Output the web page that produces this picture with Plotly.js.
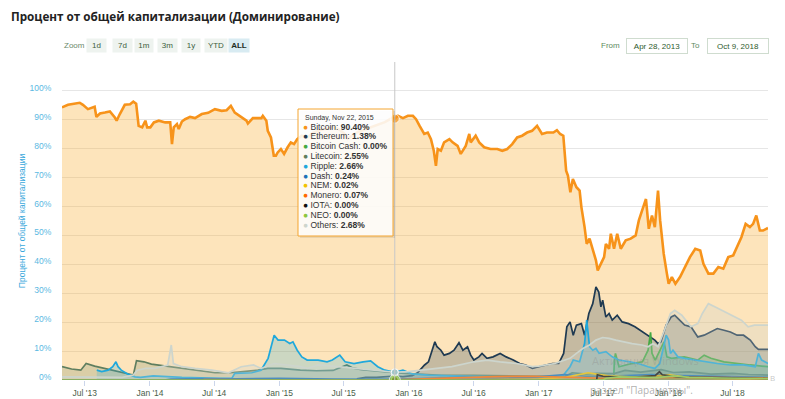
<!DOCTYPE html>
<html><head><meta charset="utf-8">
<script src="https://cdn.plot.ly/plotly-3.0.1.min.js"></script>
<style>html,body{margin:0;padding:0;background:#fff}#chart{width:785px;height:399px}</style>
</head><body><div id="chart"></div>
<script>
// ---------- DATA ----------
const seriesNames = ['Bitcoin','Ethereum','Bitcoin Cash','Litecoin','Ripple','Dash','NEM','Monero','IOTA','NEO','Others'];
const seriesColors = ['#f7931a','#1f3a52','#43a843','#5f7e5f','#1fa8dc','#1c72b8','#f2c200','#ff6a00','#111111','#8cc63f','#cdd5cd'];

const btcDates = ['2013-04-28','2013-05-15','2013-06-17','2013-06-26','2013-07-10','2013-07-29','2013-08-03','2013-08-13','2013-08-27','2013-09-10','2013-09-24','2013-09-29','2013-10-08','2013-10-22','2013-11-06','2013-11-15','2013-11-23','2013-11-30','2013-12-10','2013-12-19','2013-12-24','2014-01-02','2014-01-12','2014-01-26','2014-02-13','2014-02-27','2014-03-04','2014-03-09','2014-03-18','2014-03-23','2014-04-01','2014-04-10','2014-04-24','2014-05-08','2014-05-27','2014-06-14','2014-07-03','2014-07-22','2014-08-05','2014-08-17','2014-08-28','2014-09-11','2014-09-30','2014-10-04','2014-10-18','2014-11-11','2014-11-15','2014-11-25','2014-11-29','2014-12-08','2014-12-16','2014-12-22','2014-12-27','2015-01-05','2015-01-14','2015-01-24','2015-02-02','2015-02-11','2015-02-20','2015-03-05','2015-03-20','2015-04-05','2015-04-20','2015-05-05','2015-05-20','2015-06-05','2015-06-20','2015-07-05','2015-07-12','2015-07-25','2015-08-10','2015-08-25','2015-09-10','2015-09-25','2015-10-10','2015-10-25','2015-11-05','2015-11-16','2015-11-22','2015-12-01','2015-12-15','2015-12-29','2016-01-12','2016-01-21','2016-01-31','2016-02-13','2016-02-23','2016-03-03','2016-03-11','2016-03-17','2016-03-22','2016-03-31','2016-04-09','2016-04-24','2016-05-03','2016-05-17','2016-05-26','2016-06-09','2016-06-19','2016-06-23','2016-07-07','2016-07-17','2016-07-31','2016-08-18','2016-09-06','2016-09-20','2016-10-04','2016-10-18','2016-11-01','2016-11-15','2016-11-29','2016-12-13','2016-12-27','2017-01-10','2017-01-24','2017-02-11','2017-02-21','2017-03-02','2017-03-11','2017-03-19','2017-03-24','2017-03-31','2017-04-07','2017-04-17','2017-04-26','2017-05-01','2017-05-10','2017-05-16','2017-05-24','2017-06-02','2017-06-11','2017-06-16','2017-06-25','2017-07-04','2017-07-09','2017-07-18','2017-07-23','2017-08-01','2017-08-10','2017-08-20','2017-09-03','2017-09-17','2017-10-01','2017-10-10','2017-10-19','2017-10-30','2017-11-07','2017-11-16','2017-11-24','2017-12-03','2017-12-09','2017-12-19','2017-12-28','2018-01-02','2018-01-11','2018-01-21','2018-02-03','2018-02-18','2018-03-03','2018-03-18','2018-04-01','2018-04-10','2018-04-24','2018-05-08','2018-05-22','2018-06-05','2018-06-19','2018-07-03','2018-07-17','2018-07-26','2018-08-07','2018-08-19','2018-08-28','2018-09-06','2018-09-16','2018-09-25','2018-10-09'];
const btcValues = [94.3,95.2,95.9,95.2,93.7,94.5,91.0,92.2,92.5,92.9,90.8,89.7,92.0,95.2,95.4,96.3,95.6,87.9,87.4,89.7,87.4,87.4,89.1,89.7,89.1,89.1,81.6,87.4,88.5,86.8,89.4,90.2,91.0,90.6,92.0,92.4,93.7,93.1,93.3,94.8,92.5,91.4,89.7,88.7,90.6,90.6,91.4,89.7,86.2,83.9,77.6,77.6,78.7,79.9,78.2,80.5,82.2,81.6,83.3,84.5,83.8,85.5,86.2,86.8,87.0,87.5,86.5,85.0,83.5,84.5,85.8,86.5,87.2,87.8,88.5,89.2,90.0,90.8,90.4,91.4,90.6,91.4,91.4,90.2,87.9,85.1,85.6,83.3,79.3,74.1,79.9,79.3,82.2,83.3,82.2,81.0,78.2,81.0,85.1,82.2,84.5,82.2,80.5,79.9,79.9,79.3,79.9,81.6,83.9,84.5,85.6,86.2,87.9,85.1,85.6,85.6,86.4,85.1,84.5,72.4,70.7,64.9,69.5,66.7,65.5,59.8,52.9,47.1,48.9,44.8,41.4,37.9,40.2,42.5,47.1,45.4,50.6,45.4,50.6,45.4,48.3,48.9,50.0,55.2,58.6,62.6,52.3,56.9,52.9,65.5,55.2,43.7,36.8,33.3,35.6,33.3,35.6,39.1,42.5,45.4,44.8,40.2,36.8,36.8,39.1,38.5,42.5,43.1,46.6,49.4,54.0,52.9,54.0,56.9,51.7,51.7,52.6];

const ethDates = ['2015-08-07','2015-09-01','2015-10-01','2015-11-01','2015-11-22','2015-12-15','2016-01-10','2016-01-25','2016-02-05','2016-02-14','2016-02-25','2016-03-07','2016-03-14','2016-03-20','2016-03-31','2016-04-09','2016-04-24','2016-05-07','2016-05-21','2016-06-01','2016-06-14','2016-06-23','2016-07-02','2016-07-16','2016-07-25','2016-08-08','2016-08-25','2016-09-14','2016-10-01','2016-10-21','2016-11-08','2016-11-25','2016-12-14','2017-01-01','2017-01-20','2017-02-08','2017-02-26','2017-03-12','2017-03-21','2017-03-30','2017-04-08','2017-04-17','2017-05-01','2017-05-10','2017-05-22','2017-06-02','2017-06-11','2017-06-19','2017-06-25','2017-06-30','2017-07-09','2017-07-18','2017-07-27','2017-08-10','2017-08-24','2017-09-11','2017-09-29','2017-10-13','2017-10-27','2017-11-10','2017-11-24','2017-12-03','2017-12-11','2017-12-17','2017-12-26','2018-01-09','2018-01-19','2018-01-28','2018-02-16','2018-03-06','2018-03-25','2018-04-12','2018-05-01','2018-05-19','2018-06-07','2018-06-25','2018-07-14','2018-08-01','2018-08-20','2018-09-03','2018-09-12','2018-10-09'];
const ethValues = [0.4,0.9,0.9,1.1,1.38,1.2,1.5,2.5,4.0,5.2,6.3,10.3,13.2,11.5,10.3,8.6,9.2,10.3,12.9,10.3,11.5,8.6,6.9,8.0,9.2,7.5,8.0,9.2,8.0,6.9,5.7,5.2,4.0,4.6,5.2,5.7,5.7,9.2,18.4,20.1,15.5,19.0,19.5,15.5,23.0,26.4,32.2,30.4,25.3,27.6,21.8,23.0,20.7,22.4,20.1,19.5,18.4,17.2,16.1,14.9,13.8,12.6,13.2,15.5,19.0,21.8,22.4,21.3,19.0,18.4,14.9,15.5,16.6,17.8,17.2,16.6,15.5,15.5,13.8,11.5,10.6,10.6];

const bchDates = ['2013-04-28','2017-07-31','2017-08-02','2017-08-05','2017-08-15','2017-09-20','2017-10-20','2017-11-05','2017-11-12','2017-11-16','2017-11-25','2017-12-08','2017-12-20','2017-12-28','2018-01-10','2018-02-15','2018-03-25','2018-04-12','2018-05-01','2018-06-07','2018-07-14','2018-08-20','2018-10-09'];
const bchValues = [0,0,6.9,9.2,4.6,5.7,6.3,10.3,16.5,9.2,6.9,10.0,13.2,8.0,7.5,8.0,6.9,8.6,7.5,6.3,5.7,5.2,4.6];

const ltcDates = ['2013-04-28','2013-05-25','2013-06-20','2013-07-05','2013-07-29','2013-09-05','2013-10-10','2013-11-15','2013-11-24','2013-12-15','2014-01-05','2014-02-15','2014-04-01','2014-05-15','2014-07-03','2014-08-15','2014-09-20','2014-11-01','2014-11-29','2015-01-05','2015-03-01','2015-04-15','2015-06-01','2015-07-10','2015-07-25','2015-08-20','2015-09-20','2015-10-20','2015-11-22','2015-12-20','2016-02-01','2016-04-01','2016-07-01','2016-10-01','2017-01-01','2017-03-15','2017-04-05','2017-05-15','2017-06-15','2017-08-01','2017-09-01','2017-10-15','2017-12-12','2018-01-15','2018-03-01','2018-05-01','2018-07-01','2018-08-15','2018-10-09'];
const ltcValues = [4.6,3.8,3.4,5.7,4.8,3.7,2.5,1.7,6.7,6.3,5.5,4.8,4.2,3.4,2.5,2.5,2.9,3.4,4.0,4.0,3.4,3.2,3.3,5.2,4.2,3.6,3.2,2.8,2.55,2.3,2.0,1.6,1.6,1.5,1.3,1.2,2.5,2.0,2.3,2.2,3.3,2.7,3.6,2.6,2.8,2.0,2.3,1.9,1.7];

const xrpDates = ['2013-08-04','2013-08-18','2013-09-05','2013-09-18','2013-09-27','2013-10-03','2013-10-12','2013-10-30','2013-11-20','2013-12-05','2014-01-10','2014-04-01','2014-07-15','2014-08-20','2014-08-28','2014-10-15','2014-11-10','2014-11-30','2014-12-17','2014-12-28','2015-01-15','2015-01-30','2015-02-08','2015-02-20','2015-03-05','2015-03-20','2015-04-20','2015-05-15','2015-05-30','2015-06-20','2015-07-05','2015-07-30','2015-08-25','2015-09-15','2015-10-05','2015-10-25','2015-11-22','2015-12-15','2016-01-10','2016-02-25','2016-05-01','2016-08-08','2016-12-14','2017-02-01','2017-03-10','2017-03-30','2017-04-08','2017-04-26','2017-05-10','2017-05-16','2017-05-24','2017-06-02','2017-06-11','2017-06-20','2017-07-09','2017-07-27','2017-08-15','2017-09-15','2017-10-08','2017-11-05','2017-11-24','2017-12-08','2017-12-17','2017-12-26','2018-01-02','2018-01-07','2018-01-14','2018-01-28','2018-02-16','2018-03-18','2018-04-12','2018-05-19','2018-06-25','2018-08-01','2018-09-03','2018-09-12','2018-09-21','2018-10-09'];
const xrpValues = [3.4,2.9,3.4,4.6,6.3,4.6,3.4,2.1,1.1,0.9,1.4,0.9,0.6,0.6,2.3,2.5,3.4,7.5,15.5,13.8,13.8,12.6,13.2,10.3,8.0,6.9,6.9,6.3,6.9,8.6,6.3,5.7,6.3,6.6,4.6,3.4,2.66,3.4,2.1,1.7,1.4,1.1,0.9,1.0,1.5,4.6,6.9,6.3,12.6,20.7,11.5,10.3,10.9,9.2,9.8,8.0,6.9,6.3,5.7,4.6,4.0,5.7,10.3,15.5,13.8,9.2,10.3,8.0,7.5,6.9,6.3,5.7,5.2,5.2,4.6,9.2,6.9,5.7];

const dashDates = ['2014-02-10','2014-03-01','2014-06-01','2014-09-01','2015-01-01','2015-06-01','2015-11-22','2016-03-01','2016-06-01','2016-09-01','2016-12-01','2017-03-15','2017-05-15','2017-08-15','2017-11-15','2018-01-01','2018-04-01','2018-07-01','2018-10-09'];
const dashValues = [0,0.3,0.5,0.4,0.6,0.3,0.24,0.5,0.9,0.6,0.8,1.9,1.3,1.4,1.9,1.6,1.4,1.0,0.9];

const nemDates = ['2015-04-01','2015-11-22','2016-06-01','2017-01-01','2017-03-20','2017-05-20','2017-06-10','2017-07-15','2017-10-01','2018-01-05','2018-03-01','2018-06-01','2018-10-09'];
const nemValues = [0.05,0.02,0.05,0.3,1.0,2.5,2.0,1.4,1.0,1.8,0.8,0.5,0.4];

const xmrDates = ['2014-06-01','2015-11-22','2016-03-01','2016-07-01','2016-09-01','2016-12-15','2017-02-01','2017-04-15','2017-07-01','2017-12-01','2018-04-01','2018-10-09'];
const xmrValues = [0.1,0.07,0.5,1.0,1.2,1.3,1.1,0.8,0.6,0.8,0.9,0.7];

const iotaDates = ['2013-04-28','2017-06-13','2017-06-15','2017-07-01','2017-08-15','2017-10-01','2017-11-25','2017-12-07','2017-12-15','2018-02-01','2018-06-01','2018-10-09'];
const iotaValues = [0,0,1.8,1.3,1.0,1.0,1.5,2.9,1.8,1.0,0.8,0.5];

const neoDates = ['2013-04-28','2017-06-30','2017-07-10','2017-08-15','2017-10-01','2017-12-01','2018-01-15','2018-03-01','2018-06-01','2018-10-09'];
const neoValues = [0,0,0.6,1.1,1.0,0.8,1.4,0.9,0.7,0.5];

const othDates = ['2013-04-28','2013-10-15','2013-11-15','2013-11-26','2013-12-20','2014-01-15','2014-02-20','2014-03-02','2014-03-08','2014-04-01','2014-05-08','2014-06-25','2014-08-10','2014-09-15','2014-10-20','2014-11-10','2014-12-17','2015-01-25','2015-03-01','2015-03-20','2015-04-20','2015-06-15','2015-08-10','2015-09-25','2015-11-22','2015-12-30','2016-03-10','2016-05-01','2016-07-02','2016-08-08','2016-09-14','2016-10-30','2016-12-14','2017-01-01','2017-02-15','2017-03-30','2017-04-17','2017-05-05','2017-05-24','2017-06-11','2017-06-30','2017-07-18','2017-08-06','2017-08-25','2017-09-21','2017-10-19','2017-11-05','2017-11-19','2017-12-03','2017-12-21','2018-01-07','2018-01-19','2018-02-08','2018-03-06','2018-03-25','2018-04-07','2018-04-24','2018-05-12','2018-05-31','2018-06-19','2018-07-07','2018-07-26','2018-08-14','2018-09-01','2018-10-09'];
const othValues = [1.1,0.9,1.7,3.4,4.0,4.0,5.2,12.1,5.7,4.6,4.0,3.4,2.5,4.6,5.2,4.0,5.7,5.2,4.6,4.0,5.2,4.6,4.0,3.4,2.68,2.9,4.0,4.6,6.3,6.9,6.3,5.7,4.6,4.8,5.7,7.5,9.2,10.9,12.1,13.8,14.7,14.4,13.8,13.2,12.6,12.1,11.5,12.6,11.5,17.2,23.0,24.1,22.4,18.4,19.5,23.0,26.4,25.3,24.1,23.0,21.8,20.7,18.4,19.0,19.0];

const tooltipDate = '2015-11-22';
const tooltipHeader = 'Sunday, Nov 22, 2015';
const tooltipValues = [90.40,1.38,0.00,2.55,2.66,0.24,0.02,0.07,0.00,0.00,2.68];

const yTickValues = [0,10,20,30,40,50,60,70,80,90,100,110];
const yTickLabels = ['0%','10%','20%','30%','40%','50%','60%','70%','80%','90%','100%',''];
const zoomButtons = ['1d','7d','1m','3m','1y','YTD','ALL'];
const rangeFrom = 'Apr 28, 2013';
const rangeTo = 'Oct 9, 2018';

// ---------- BUILD ----------
const seriesData = [
  [btcDates, btcValues],[ethDates, ethValues],[bchDates, bchValues],[ltcDates, ltcValues],
  [xrpDates, xrpValues],[dashDates, dashValues],[nemDates, nemValues],[xmrDates, xmrValues],
  [iotaDates, iotaValues],[neoDates, neoValues],[othDates, othValues]
];
function rgba(hex, a){
  const n = parseInt(hex.slice(1),16);
  return 'rgba('+((n>>16)&255)+','+((n>>8)&255)+','+(n&255)+','+a+')';
}
const fillAlpha = [0.3,0.25,0.22,0.22,0.22,0.2,0.2,0.2,0.15,0.2,0.28];
const traces = seriesData.map((s,i)=>({
  type:'scatter', mode:'lines', name:seriesNames[i], x:s[0], y:s[1],
  line:{color:seriesColors[i], width: i===0?2.6:1.7},
  fill:'tozeroy', fillcolor: i===0 ? 'rgba(248,172,42,0.32)' : rgba(seriesColors[i], fillAlpha[i]),
  hoverinfo:'skip', showlegend:false
}));
// hover markers at the tooltip date
traces.push({
  type:'scatter', mode:'markers', x: tooltipValues.map(()=>tooltipDate), y: tooltipValues,
  marker:{color:seriesColors, size:[9,7,7,7,7,7,7,7,7,11,7], line:{color:'#ffffff', width:1}},
  hoverinfo:'skip', showlegend:false
});

const L=62, R=768, T=62, B=380;
const px = x => (x-L)/(R-L);
const py = y => (B-y)/(B-T);
const small = 'Liberation Sans, Arial, sans-serif';

const annotations = [];
const shapes = [];
// crosshair
shapes.push({type:'line', xref:'x', yref:'paper', x0:tooltipDate, x1:tooltipDate, y0:0, y1:1, line:{color:'#c8c8c8', width:1}, layer:'above'});
// Zoom label + buttons
annotations.push({xref:'paper', yref:'paper', x:px(62), y:py(45.5), xanchor:'left', yanchor:'middle', showarrow:false, text:'Zoom', font:{family:small, size:8, color:'#6b8a6b'}});
const btnLeft = [87,113,135,158,182,205,229];
const btnWidth = [19,19,18,19,18,22,20];
zoomButtons.forEach((b,i)=>{
  const active = b==='ALL';
  annotations.push({xref:'paper', yref:'paper', x:px(btnLeft[i]+btnWidth[i]/2), y:py(45.5), xanchor:'center', yanchor:'middle', showarrow:false,
    text: active? '<b>'+b+'</b>' : b, width:btnWidth[i], height:13, borderpad:0,
    bgcolor: active? '#d8ebf2':'#eef3ef', font:{family:small, size:8, color: active?'#1e2e1e':'#3d5e3d'}});
});
// From / To
annotations.push({xref:'paper', yref:'paper', x:px(622), y:py(45.5), xanchor:'right', yanchor:'middle', showarrow:false, text:'From', font:{family:small, size:8, color:'#5e8a5e'}});
annotations.push({xref:'paper', yref:'paper', x:px(656.5), y:py(45.5), xanchor:'center', yanchor:'middle', showarrow:false, text:rangeFrom, width:58, height:12, borderpad:1, bordercolor:'#cfdccf', borderwidth:1, bgcolor:'#ffffff', font:{family:small, size:8, color:'#2e5a2e'}});
annotations.push({xref:'paper', yref:'paper', x:px(702), y:py(45.5), xanchor:'right', yanchor:'middle', showarrow:false, text:'To', font:{family:small, size:8, color:'#5e8a5e'}});
annotations.push({xref:'paper', yref:'paper', x:px(737.5), y:py(45.5), xanchor:'center', yanchor:'middle', showarrow:false, text:rangeTo, width:58, height:12, borderpad:1, bordercolor:'#cfdccf', borderwidth:1, bgcolor:'#ffffff', font:{family:small, size:8, color:'#2e5a2e'}});

// tooltip box
shapes.push({type:'rect', xref:'paper', yref:'paper', x0:px(300), x1:px(395), y0:py(238), y1:py(111), fillcolor:'rgba(0,0,0,0.08)', line:{width:0}, layer:'above'});
shapes.push({type:'rect', xref:'paper', yref:'paper', x0:px(298), x1:px(393), y0:py(236), y1:py(109), fillcolor:'rgba(255,255,255,0.88)', line:{color:'#f4a531', width:1}, layer:'above'});
annotations.push({xref:'paper', yref:'paper', x:px(303), y:py(117.5), xanchor:'left', yanchor:'middle', showarrow:false, text:tooltipHeader, font:{family:small, size:7, color:'#333333'}});
seriesNames.forEach((n,i)=>{
  annotations.push({xref:'paper', yref:'paper', x:px(301), y:py(126.5+i*9.8), xanchor:'left', yanchor:'middle', showarrow:false,
    text:'<span style="color:'+seriesColors[i]+'">●</span> '+n+': <b>'+tooltipValues[i].toFixed(2)+'%</b>',
    font:{family:small, size:8.5, color:'#333333'}});
});
// OS overlay text
annotations.push({xref:'paper', yref:'paper', x:px(590), y:py(360), xanchor:'left', yanchor:'middle', showarrow:false, text:'Активация Windows', font:{family:'Open Sans, sans-serif', size:11, color:'rgba(140,140,140,0.35)'}});
annotations.push({xref:'paper', yref:'paper', x:px(588), y:py(390), xanchor:'left', yanchor:'middle', showarrow:false, text:'раздел "Параметры".', font:{family:'Open Sans, sans-serif', size:10, color:'rgba(150,150,150,0.75)'}});
annotations.push({xref:'paper', yref:'paper', x:px(772), y:py(377), xanchor:'center', yanchor:'middle', showarrow:false, text:'B', font:{family:'Open Sans, sans-serif', size:8, color:'rgba(160,160,160,0.6)'}});

const layout = {
  width:785, height:399,
  margin:{l:L, r:785-R, t:T, b:399-B, pad:0},
  paper_bgcolor:'#ffffff', plot_bgcolor:'#ffffff',
  title:{text:'<b>Процент от общей капитализации (Доминирование)</b>', x:11/785, xanchor:'left', xref:'container', y:1-17/399, yref:'container', yanchor:'middle',
    font:{family:'Open Sans, sans-serif', size:11.7, color:'#222222'}},
  xaxis:{type:'date', range:['2013-04-28','2018-10-09'], tickformat:"%b '%y", dtick:'M6', tick0:'2013-07-01',
    ticks:'outside', ticklen:5, tickcolor:'#ccd6eb', showgrid:false, zeroline:false, showline:false,
    tickfont:{family:small, size:8.5, color:'#4a5e4a'}, automargin:false, fixedrange:true},
  yaxis:{range:[0,110], tickvals:yTickValues, ticktext:yTickLabels, gridcolor:'#e6e6e6', gridwidth:1, zeroline:false, showline:false,
    ticks:'outside', ticklen:8, tickcolor:'rgba(0,0,0,0)', ticklabelshift:-3,
    tickfont:{family:small, size:8.5, color:'#5bb9e2'}, automargin:false, fixedrange:true,
    title:{text:'Процент от общей капитализации', font:{family:small, size:8.5, color:'#3aa9dc'}, standoff:2}},
  shapes:shapes, annotations:annotations, showlegend:false, hovermode:false
};
Plotly.newPlot('chart', traces, layout, {displayModeBar:false, staticPlot:true});
</script></body></html>
